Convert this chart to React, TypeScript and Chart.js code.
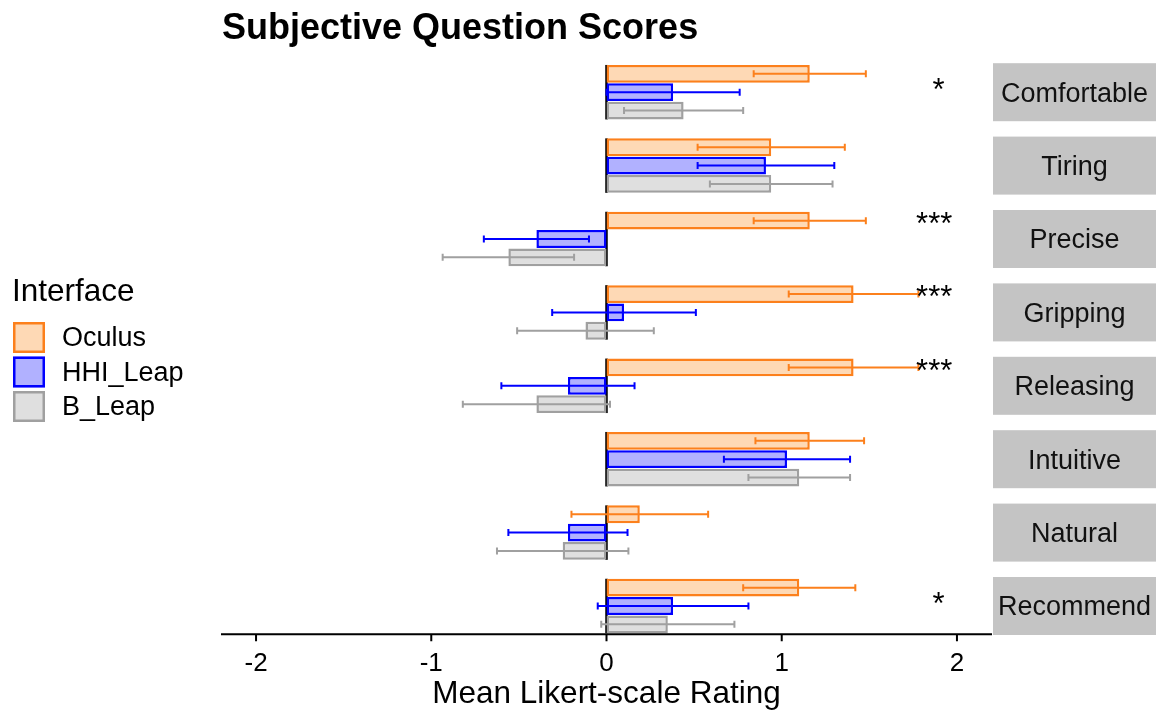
import React, { useEffect, useRef } from "react";
import { Chart, registerables } from "chart.js";

Chart.register(...registerables);

// ---------- data ----------
const categories = ["Comfortable", "Tiring", "Precise", "Gripping", "Releasing", "Intuitive", "Natural", "Recommend"];
const seriesNames = ["Oculus", "HHI_Leap", "B_Leap"];
const oculusMean = [1.16, 0.94, 1.16, 1.41, 1.41, 1.16, 0.19, 1.1];
const oculusErr = [0.32, 0.42, 0.32, 0.37, 0.37, 0.31, 0.39, 0.32];
const hhiMean = [0.38, 0.91, -0.4, 0.1, -0.22, 1.03, -0.22, 0.38];
const hhiErr = [0.38, 0.39, 0.3, 0.41, 0.38, 0.36, 0.34, 0.43];
const bLeapMean = [0.44, 0.94, -0.56, -0.12, -0.4, 1.1, -0.25, 0.35];
const bLeapErr = [0.34, 0.35, 0.375, 0.39, 0.42, 0.29, 0.375, 0.38];
const significance = ["*", "", "***", "***", "***", "", "", "*"];
const tickValues = [-2, -1, 0, 1, 2];
const chartTitle = "Subjective Question Scores";
const xAxisTitle = "Mean Likert-scale Rating";
const legendTitle = "Interface";

// ---------- styles ----------
const FONT = "'Liberation Sans', Arial, Helvetica, sans-serif";
const fills = ["rgb(254,217,181)", "rgb(177,177,255)", "rgb(223,223,223)"];
const borders = ["rgb(252,128,28)", "rgb(0,0,255)", "rgb(160,160,160)"];
const means = [oculusMean, hhiMean, bLeapMean];
const errs = [oculusErr, hhiErr, bLeapErr];

const W = 1156;
const H = 713;

const overlay = {
  id: "overlay",
  beforeDatasetsDraw(chart: any) {
    const ctx = chart.ctx;
    const xs = chart.scales.x;
    const x0 = xs.getPixelForValue(0);
    const m0 = chart.getDatasetMeta(0);
    const m2 = chart.getDatasetMeta(2);
    ctx.save();
    ctx.strokeStyle = "#000";
    ctx.lineWidth = 2.5;
    for (let i = 0; i < categories.length; i++) {
      const a = m0.data[i];
      const b = m2.data[i];
      ctx.beginPath();
      ctx.moveTo(x0, a.y - a.height / 2);
      ctx.lineTo(x0, b.y + b.height / 2);
      ctx.stroke();
    }
    ctx.restore();
  },
  afterDatasetsDraw(chart: any) {
    const ctx = chart.ctx;
    const xs = chart.scales.x;
    ctx.save();
    ctx.lineWidth = 2;
    for (let d = 0; d < 3; d++) {
      const meta = chart.getDatasetMeta(d);
      ctx.strokeStyle = borders[d];
      for (let i = 0; i < categories.length; i++) {
        const el = meta.data[i];
        const y = el.y;
        const xa = xs.getPixelForValue(means[d][i] - errs[d][i]);
        const xb = xs.getPixelForValue(means[d][i] + errs[d][i]);
        ctx.beginPath();
        ctx.moveTo(xa, y);
        ctx.lineTo(xb, y);
        ctx.moveTo(xa, y - 3.5);
        ctx.lineTo(xa, y + 3.5);
        ctx.moveTo(xb, y - 3.5);
        ctx.lineTo(xb, y + 3.5);
        ctx.stroke();
      }
    }
    ctx.restore();
  },
  afterDraw(chart: any) {
    const ctx = chart.ctx;
    const xs = chart.scales.x;
    const ys = chart.scales.y;
    const area = chart.chartArea;
    const m2 = chart.getDatasetMeta(2);
    const last = m2.data[categories.length - 1];
    const axisY = last.y + last.height / 2 + 1;
    ctx.save();
    // axis line + ticks
    ctx.strokeStyle = "#000";
    ctx.lineWidth = 2;
    ctx.beginPath();
    ctx.moveTo(area.left, axisY);
    ctx.lineTo(area.right, axisY);
    for (const v of tickValues) {
      const px = xs.getPixelForValue(v);
      ctx.moveTo(px, axisY);
      ctx.lineTo(px, axisY + 7);
    }
    ctx.stroke();

    // strips
    for (let i = 0; i < categories.length; i++) {
      const cy = ys.getPixelForValue(i);
      ctx.fillStyle = "#C4C4C4";
      ctx.fillRect(area.right + 1, cy - 29, W - area.right - 1, 58);
      ctx.fillStyle = "#111";
      ctx.font = `27px ${FONT}`;
      ctx.textAlign = "center";
      ctx.textBaseline = "middle";
      ctx.fillText(categories[i], (area.right + 1 + W) / 2, cy + 2);
    }

    // significance stars
    ctx.fillStyle = "#000";
    ctx.font = `31px ${FONT}`;
    ctx.textAlign = "center";
    ctx.textBaseline = "alphabetic";
    for (let i = 0; i < categories.length; i++) {
      const s = significance[i];
      if (!s) continue;
      const cy = ys.getPixelForValue(i);
      const multi = s.length > 1;
      const sx = xs.getPixelForValue(multi ? 1.87 : 1.895);
      ctx.fillText(s, sx, cy + (multi ? -5.3 : 7.7));
    }

    // title
    ctx.font = `bold 36px ${FONT}`;
    ctx.textAlign = "left";
    ctx.fillText(chartTitle, 222, 39);

    // legend
    ctx.font = `31.5px ${FONT}`;
    ctx.textBaseline = "middle";
    ctx.fillText(legendTitle, 12, 292);
    ctx.font = `27px ${FONT}`;
    for (let d = 0; d < 3; d++) {
      const top = 322 + d * 34.5;
      ctx.fillStyle = fills[d];
      ctx.fillRect(13, top, 32, 31);
      ctx.strokeStyle = borders[d];
      ctx.lineWidth = 2.5;
      ctx.strokeRect(14.25, top + 1.25, 29.5, 28.5);
      ctx.fillStyle = "#000";
      ctx.fillText(seriesNames[d], 62, top + 17);
    }
    ctx.restore();
  },
};

export default function App() {
  const ref = useRef<HTMLCanvasElement | null>(null);
  useEffect(() => {
    if (!ref.current) return;
    const chart = new Chart(ref.current, {
      type: "bar",
      data: {
        labels: categories,
        datasets: seriesNames.map((name, d) => ({
          label: name,
          data: means[d],
          backgroundColor: fills[d],
          borderColor: borders[d],
          borderWidth: 2.5,
          borderSkipped: false,
          categoryPercentage: 0.75,
          barPercentage: 0.97,
        })),
      },
      options: {
        indexAxis: "y",
        responsive: false,
        animation: false,
        events: [],
        layout: { padding: { left: 221, right: W - 992, top: 55.5, bottom: 0 } },
        plugins: {
          legend: { display: false },
          title: { display: false },
          tooltip: { enabled: false },
        },
        scales: {
          x: {
            type: "linear",
            min: -2.2,
            max: 2.2,
            afterBuildTicks: (s: any) => {
              s.ticks = tickValues.map((v) => ({ value: v }));
            },
            afterFit: (s: any) => {
              s.height = H - 642.7;
            },
            grid: { display: false, drawTicks: false },
            border: { display: false },
            ticks: {
              padding: 6,
              color: "#000",
              font: { family: FONT, size: 26 },
              maxRotation: 0,
              includeBounds: false,
            },
            title: {
              display: true,
              text: xAxisTitle,
              color: "#000",
              font: { family: FONT, size: 31.5 },
              padding: { top: 0, bottom: 0 },
            },
          },
          y: {
            type: "category",
            display: false,
          },
        },
      },
      plugins: [overlay],
    } as any);
    return () => chart.destroy();
  }, []);
  return (
    <div style={{ position: "fixed", left: 0, top: 0, width: W, height: H, background: "#fff" }}>
      <canvas ref={ref} width={W} height={H} style={{ display: "block" }} />
    </div>
  );
}
